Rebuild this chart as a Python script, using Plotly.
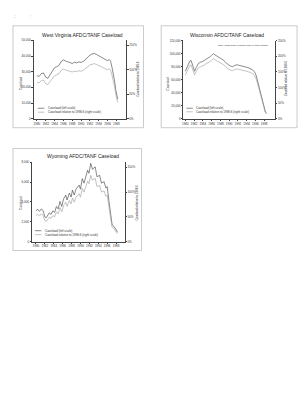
import plotly.graph_objects as go

W, H = 305, 400

# ---------------- data ----------------
WV_YEARS = [1980.0, 1980.5, 1981.0, 1981.5, 1982.0, 1982.5, 1983.0, 1983.5, 1984.0, 1984.5,
            1985.0, 1985.5, 1986.0, 1986.5, 1987.0, 1987.5, 1988.0, 1988.5, 1989.0, 1989.5,
            1990.0, 1990.5, 1991.0, 1991.5, 1992.0, 1992.5, 1993.0, 1993.5, 1994.0, 1994.5,
            1995.0, 1995.5, 1996.0, 1996.4, 1996.7, 1997.0, 1997.3, 1997.6, 1997.9, 1998.1, 1998.3]
WV_CASELOAD = [27500, 27000, 28800, 29200, 26500, 25800, 28200, 30500, 32500, 33200,
               34000, 36500, 37500, 36800, 36200, 35600, 35300, 36000, 35600, 36300,
               35900, 36600, 37600, 39200, 40600, 41300, 41600, 41000, 40200, 39500,
               38600, 38000, 37000, 37800, 36500, 33000, 29000, 24000, 18000, 14500, 12500]
WV_BASE = 37000  # caseload at 1996:6

WI_YEARS = [1980.0, 1980.5, 1981.0, 1981.3, 1981.7, 1982.1, 1982.5, 1983.0, 1983.5, 1984.0,
            1984.5, 1985.0, 1985.6, 1986.0, 1986.4, 1986.8, 1987.3, 1987.8, 1988.2, 1988.7,
            1989.1, 1989.6, 1990.3, 1990.8, 1991.3, 1991.8, 1992.3, 1992.8, 1993.3, 1993.8,
            1994.3, 1994.8, 1995.3, 1995.8, 1996.2, 1996.5, 1996.8, 1997.1, 1997.4, 1997.7,
            1998.0, 1998.3, 1998.6]
WI_CASELOAD = [73000, 80000, 88500, 89700, 81000, 73000, 79000, 85000, 87000, 88000,
               90500, 92000, 95000, 97500, 100000, 98000, 96000, 94500, 92500, 90000,
               87500, 84000, 81000, 80000, 82000, 83000, 82000, 81500, 81000, 79500,
               78500, 77500, 75500, 72000, 66000, 58000, 50000, 42000, 33000, 25000,
               15000, 10000, 8500]
WI_BASE = 52000

WY_YEARS = [1980.0, 1980.4, 1980.8, 1981.2, 1981.6, 1982.0, 1982.3, 1982.7, 1983.0, 1983.4,
            1983.8, 1984.2, 1984.6, 1985.0, 1985.4, 1985.8, 1986.2, 1986.7, 1987.0, 1987.5,
            1987.9, 1988.2, 1988.6, 1989.0, 1989.7, 1990.0, 1990.4, 1990.8, 1991.2, 1991.6,
            1991.9, 1992.3, 1992.7, 1993.3, 1993.7, 1994.3, 1994.7, 1995.3, 1995.7, 1996.0,
            1996.4, 1996.8, 1997.1, 1997.5, 1997.9, 1998.3]
WY_CASELOAD = [3100, 3250, 3050, 3300, 3150, 2500, 2400, 2700, 2900, 2750,
               3100, 2950, 3550, 3300, 4050, 3550, 4300, 4700, 4200, 4900,
               4500, 5200, 4700, 5300, 5700, 5300, 6350, 5900, 6600, 7200,
               6900, 7900, 7300, 7550, 6550, 6700, 5900, 6050, 5400, 5550,
               4050, 2550, 1700, 1550, 1200, 950]
WY_BASE = 5900

YEAR_TICKS = [1980, 1982, 1984, 1986, 1988, 1990, 1992, 1994, 1996, 1998]
YEAR_LABELS = [str(y) for y in YEAR_TICKS]

TITLES = ["West Virginia AFDC/TANF Caseload", "Wisconsin AFDC/TANF Caseload",
          "Wyoming AFDC/TANF Caseload"]
LEG1 = "Caseload (left scale)"
LEG2 = "Caseload relative to 1996:6 (right scale)"
LEFT_TITLE = "Caseload"
RIGHT_TITLE = "Caseload relative to 1996:6"
WI_NOTE = "Note: Right scale is higher than in other graphs"

FONT = "Liberation Sans"
DARK = "#3a3a3a"
GRAY = "#9a9a9a"


def px(x):
    return x / W


def py(y):
    return 1 - y / H


panels = [
    dict(years=WV_YEARS, vals=WV_CASELOAD, base=WV_BASE,
         xd=(32.7, 125.7), yd=(38.7, 118), xr=[1979.25, 2000.25],
         lr=[0, 50000], ld=10000, rr=[0, 1.6], rticks=[0, 0.5, 1.0, 1.5],
         frame=(12, 24, 143, 127), title=(82, 33),
         ltitle=(20, 82), rtitle=(138, 78), leg=(37, 107.3, 111.3)),
    dict(years=WI_YEARS, vals=WI_CASELOAD, base=WI_BASE,
         xd=(183, 275), yd=(39, 118), xr=[1979.55, 2000.5],
         lr=[0, 120000], ld=20000, rr=[0, 2.5], rticks=[0, 0.5, 1.0, 1.5, 2.0, 2.5],
         frame=(160.7, 24, 297, 127), title=(227, 33),
         ltitle=(168, 82), rtitle=(286, 77), leg=(186, 107.3, 110.9)),
    dict(years=WY_YEARS, vals=WY_CASELOAD, base=WY_BASE,
         xd=(31, 124), yd=(162, 242), xr=[1979.1, 1999.9],
         lr=[0, 8000], ld=2000, rr=[0, 1.6], rticks=[0, 0.5, 1.0, 1.5],
         frame=(12, 148, 141, 251), title=(82, 156),
         ltitle=(20, 203), rtitle=(136, 203), leg=(34, 231, 235)),
]

fig = go.Figure()
shapes = []
annotations = []
layout_axes = {}

for i, p in enumerate(panels):
    xn = i + 1
    yl = 2 * i + 1
    yr = 2 * i + 2
    xname = "x" if xn == 1 else f"x{xn}"
    ylname = "y" if yl == 1 else f"y{yl}"
    yrname = f"y{yr}"
    rel = [v / p["base"] for v in p["vals"]]

    fig.add_trace(go.Scatter(x=p["years"], y=p["vals"], mode="lines",
                             line=dict(color=DARK, width=0.6),
                             xaxis=xname, yaxis=ylname, showlegend=False,
                             name=LEG1))
    fig.add_trace(go.Scatter(x=p["years"], y=rel, mode="lines",
                             line=dict(color=GRAY, width=0.6),
                             xaxis=xname, yaxis=yrname, showlegend=False,
                             name=LEG2))

    axkw = dict(showgrid=False, zeroline=False, showline=True, linecolor="#444",
                linewidth=0.5, ticks="outside", ticklen=1.5, tickwidth=0.5,
                tickcolor="#444", tickfont=dict(size=3, family=FONT, color="#333"))
    layout_axes[f"xaxis{'' if xn == 1 else xn}"] = dict(
        domain=[px(p["xd"][0]), px(p["xd"][1])], range=p["xr"], tickangle=0,
        anchor=ylname, tickvals=YEAR_TICKS, ticktext=YEAR_LABELS, **axkw)
    layout_axes[f"yaxis{'' if yl == 1 else yl}"] = dict(
        domain=[py(p["yd"][1]), py(p["yd"][0])], range=p["lr"], dtick=p["ld"],
        tickformat=",d", anchor=xname, side="left", **axkw)
    layout_axes[f"yaxis{yr}"] = dict(
        domain=[py(p["yd"][1]), py(p["yd"][0])], range=p["rr"],
        tickvals=p["rticks"], tickformat=".0%", anchor=xname, overlaying=ylname,
        side="right", **axkw)

    # chart frame
    fx0, fy0, fx1, fy1 = p["frame"]
    shapes.append(dict(type="rect", xref="paper", yref="paper",
                       x0=px(fx0), x1=px(fx1), y0=py(fy1), y1=py(fy0),
                       line=dict(color="#a8a8a8", width=0.6)))
    # title
    annotations.append(dict(text=TITLES[i], x=px(p["title"][0]), y=py(p["title"][1]),
                            xref="paper", yref="paper", showarrow=False,
                            xanchor="center", yanchor="middle",
                            font=dict(size=5, family=FONT, color="#222")))
    annotations.append(dict(text=LEFT_TITLE, x=px(p["ltitle"][0]), y=py(p["ltitle"][1]),
                            xref="paper", yref="paper", showarrow=False, textangle=-90,
                            xanchor="center", yanchor="middle",
                            font=dict(size=3.2, family=FONT, color="#333")))
    annotations.append(dict(text=RIGHT_TITLE, x=px(p["rtitle"][0]), y=py(p["rtitle"][1]),
                            xref="paper", yref="paper", showarrow=False, textangle=-90,
                            xanchor="center", yanchor="middle",
                            font=dict(size=2.9, family=FONT, color="#333")))
    # legend (manual, small)
    lx, ly1, ly2 = p["leg"]
    for ly, col, txt in ((ly1, DARK, LEG1), (ly2, GRAY, LEG2)):
        shapes.append(dict(type="line", xref="paper", yref="paper",
                           x0=px(lx), x1=px(lx + 6.5), y0=py(ly), y1=py(ly),
                           line=dict(color=col, width=0.6)))
        annotations.append(dict(text=txt, x=px(lx + 8), y=py(ly), xref="paper",
                                yref="paper", showarrow=False, xanchor="left",
                                yanchor="middle",
                                font=dict(size=3, family=FONT, color="#333")))

annotations.append(dict(text=WI_NOTE, x=px(271), y=py(43.5), xref="paper", yref="paper",
                        showarrow=False, xanchor="right", yanchor="middle",
                        font=dict(size=2.4, family=FONT, color="#333")))
# scanner marks at top left
annotations.append(dict(text=".:", x=px(10), y=py(9), xref="paper", yref="paper",
                        showarrow=False, font=dict(size=5, family=FONT, color="#999")))
annotations.append(dict(text=":", x=px(27), y=py(9), xref="paper", yref="paper",
                        showarrow=False, font=dict(size=5, family=FONT, color="#999")))

fig.update_layout(width=W, height=H, autosize=False,
                  margin=dict(l=0, r=0, t=0, b=0),
                  paper_bgcolor="white", plot_bgcolor="white",
                  shapes=shapes, annotations=annotations, showlegend=False,
                  **layout_axes)

fig.write_html("out.html", config={"displayModeBar": False})
